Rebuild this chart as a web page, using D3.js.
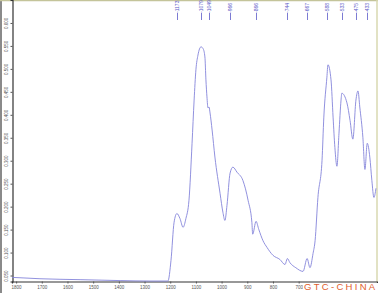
<!DOCTYPE html>
<html>
<head>
<meta charset="utf-8">
<script src="https://cdn.jsdelivr.net/npm/d3@7"></script>
<style>
  html, body { margin: 0; padding: 0; background: #fff; }
  svg { display: block; font-family: "Liberation Sans", Arial, sans-serif; }
</style>
</head>
<body>
<div id="chart"></div>
<script>
'use strict';

// spectrum, wavenumber (cm-1) and absorbance
var wavenumbers = [1816, 1707, 1551, 1395, 1279, 1209, 1197, 1185, 1174, 1162, 1150, 1139,
  1127, 1115, 1107, 1100, 1092, 1080, 1072, 1065, 1061, 1057, 1053, 1049, 1045, 1037, 1026,
  1006, 995, 987, 979, 967, 956, 940, 917, 897, 882, 879, 866, 855, 839, 823, 800, 773, 753,
  744, 734, 711, 683, 667, 656, 644, 636, 625, 609, 602, 590, 586, 574, 566, 559, 551, 543,
  535, 532, 512, 500, 489, 477, 469, 462, 450, 442, 433, 423, 415, 407, 399];
var absorbance = [0.046, 0.043, 0.041, 0.039, 0.038, 0.038, 0.083, 0.166, 0.185, 0.174, 0.155, 0.174,
  0.214, 0.338, 0.432, 0.498, 0.530, 0.548, 0.544, 0.526, 0.476, 0.439, 0.415, 0.417, 0.404, 0.367, 0.308,
  0.229, 0.188, 0.170, 0.203, 0.273, 0.286, 0.275, 0.257, 0.214, 0.165, 0.140, 0.168, 0.150, 0.126, 0.111,
  0.094, 0.085, 0.074, 0.087, 0.078, 0.067, 0.059, 0.087, 0.067, 0.098, 0.126, 0.220, 0.301, 0.395, 0.482,
  0.509, 0.476, 0.395, 0.329, 0.288, 0.360, 0.432, 0.447, 0.426, 0.388, 0.347, 0.432, 0.452, 0.417, 0.351,
  0.281, 0.338, 0.308, 0.257, 0.220, 0.240];

var peakLabels = [1173, 1079, 1049, 966, 866, 744, 667, 588, 533, 475, 433];
var xTicks = [1800, 1700, 1600, 1500, 1400, 1300, 1200, 1100, 1000, 900, 800, 700];
var yTicks = [0.05, 0.10, 0.15, 0.20, 0.25, 0.30, 0.35, 0.40, 0.45, 0.50, 0.55, 0.60];

var w = 378, h = 293;
var lineColor = '#8484da';
var labelColor = '#5a5ac8';

var svg = d3.select('#chart')
  .append('svg')
  .attr('width', w)
  .attr('height', h);

var x = d3.scaleLinear().domain([1816, 395]).range([12, 377]);
var y = d3.scaleLinear().domain([0.037, 0.650]).range([281.5, 0]);

// frame: grey strip on the left, olive border top and right
svg.append('line')
  .attr('x1', 1).attr('x2', 1).attr('y1', 0).attr('y2', h)
  .attr('stroke', '#8a8a8a').attr('stroke-width', 2);
svg.append('line')
  .attr('x1', 0).attr('x2', w).attr('y1', 0.5).attr('y2', 0.5)
  .attr('stroke', '#c4c49a').attr('stroke-width', 1.5);
svg.append('line')
  .attr('x1', 377).attr('x2', 377).attr('y1', 0).attr('y2', 282)
  .attr('stroke', '#d8d8b0').attr('stroke-width', 1.5);

// axes
var xAxis = svg.append('g')
  .attr('transform', 'translate(0,' + 281.5 + ')')
  .call(d3.axisBottom(x).tickValues(xTicks).tickSize(2).tickPadding(2).tickFormat(d3.format('d')));
var yAxis = svg.append('g')
  .attr('transform', 'translate(12.5,0)')
  .call(d3.axisLeft(y).tickValues(yTicks).tickSize(2).tickPadding(1).tickFormat(d3.format('.3f')));

[xAxis, yAxis].forEach(function(a) {
  a.select('.domain').attr('stroke', '#333').attr('stroke-width', 1.2);
  a.selectAll('.tick line').attr('stroke', '#555');
  a.selectAll('.tick text').attr('fill', '#555').attr('font-size', 4.5);
});
yAxis.selectAll('.tick text')
  .attr('text-anchor', 'middle')
  .attr('dy', 0)
  .attr('x', 0)
  .attr('transform', 'translate(-5,0) rotate(-90)');

// spectrum
var pts = wavenumbers.map(function(d, i) { return [d, absorbance[i]]; });
var line = d3.line()
  .x(function(d) { return x(d[0]); })
  .y(function(d) { return y(d[1]); })
  .curve(d3.curveMonotoneX);

svg.append('path')
  .datum(pts)
  .attr('d', line)
  .attr('fill', 'none')
  .attr('stroke', lineColor)
  .attr('stroke-width', 0.9);

// peak markers along the top
var peaks = svg.append('g');
peakLabels.forEach(function(p) {
  var px = Math.round(x(p)) + 0.5;
  peaks.append('line')
    .attr('x1', px).attr('x2', px).attr('y1', 13).attr('y2', 20)
    .attr('stroke', labelColor).attr('stroke-width', 0.8);
  peaks.append('text')
    .attr('transform', 'translate(' + (px + 1.6) + ',13) rotate(-90)')
    .attr('font-size', 5)
    .attr('fill', labelColor)
    .text('-' + p);
});

// watermark
svg.append('rect')
  .attr('x', 303).attr('y', 283).attr('width', 75).attr('height', 10)
  .attr('fill', '#fff');
svg.append('text')
  .attr('x', 304).attr('y', 290)
  .attr('font-size', 9.5)
  .attr('letter-spacing', 2.3)
  .attr('fill', '#e2602e')
  .text('GTC-CHINA');
</script>
</body>
</html>
